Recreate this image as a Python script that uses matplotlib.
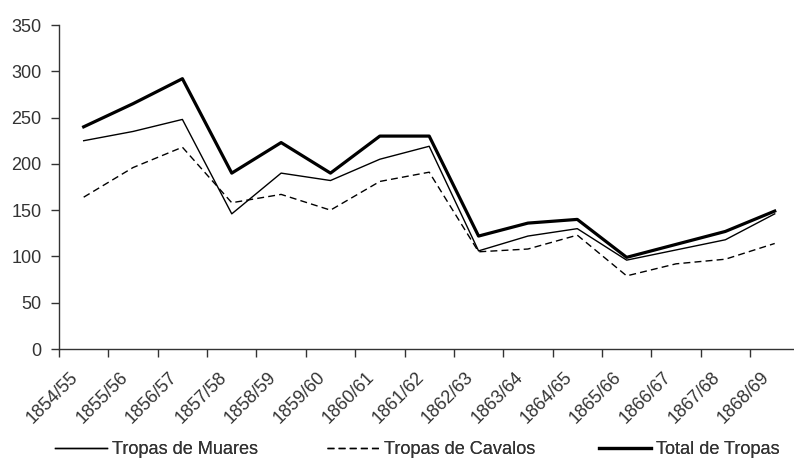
import matplotlib
matplotlib.use("Agg")
import matplotlib.pyplot as plt
import numpy as np

plt.rcParams['font.family'] = ['Liberation Sans', 'DejaVu Sans']

categories = ["1854/55", "1855/56", "1856/57", "1857/58", "1858/59", "1859/60",
              "1860/61", "1861/62", "1862/63", "1863/64", "1864/65", "1865/66",
              "1866/67", "1867/68", "1868/69"]
muares = [225, 235, 248, 146, 190, 182, 205, 219, 106, 122, 130, 96, 107, 118, 146]
cavalos = [164, 196, 218, 158, 167, 150, 181, 191, 105, 108, 123, 79, 92, 97, 114]
total = [240, 265, 292, 190, 223, 190, 230, 230, 122, 136, 140, 99, 113, 127, 149]
yticks = [0, 50, 100, 150, 200, 250, 300, 350]
series_names = ['Tropas de Muares', 'Tropas de Cavalos', 'Total de Tropas']

txt = '#333333'
fig = plt.figure(figsize=(7.94, 4.59), dpi=100)
ax = fig.add_axes([59/794, 1-349/459, (59+15*49.36)/794 - 59/794, (349-25)/459])
x = np.arange(len(categories))
l1, = ax.plot(x, muares, color='black', lw=1.0)
l2, = ax.plot(x, cavalos, color='black', lw=1.0, ls=(0, (5, 3)))
l3, = ax.plot(x, total, color='black', lw=2.3)

ax.set_xlim(-0.5, len(categories) - 0.5)
ax.set_ylim(0, 350)
ax.set_yticks(yticks)
ax.set_yticklabels([str(v) for v in yticks], fontsize=13, color=txt)
ax.set_xticks(np.arange(len(categories)) - 0.5)
ax.set_xticklabels([])
ax.set_xticks(np.arange(len(categories)) - 0.28, minor=True)
ax.set_xticklabels(categories, minor=True, rotation=45, ha='right',
                   rotation_mode='anchor', fontsize=13, color=txt)
ax.tick_params(axis='x', which='minor', length=0, pad=14)
ax.tick_params(axis='x', which='major', length=6, width=1, direction='out', color='#333333')
ax.tick_params(axis='y', length=6, width=1, direction='out', color='#333333', pad=6.5)
for s in ['top', 'right']:
    ax.spines[s].set_visible(False)
for s in ['left', 'bottom']:
    ax.spines[s].set_color('#333333')
    ax.spines[s].set_linewidth(1)

fs = 13.1
em = fs * 100 / 72
for handle, name, hx in zip([l1, l2, l3], series_names, [55, 327, 599]):
    leg = fig.legend([handle], [name], loc='center left',
                     bbox_to_anchor=(hx/794, 1-450/459), frameon=False,
                     fontsize=fs, handlelength=52/em, handletextpad=5/em,
                     borderpad=0, borderaxespad=0, labelcolor=txt)
    fig.add_artist(leg)
fig.savefig('out.png', dpi=100)
